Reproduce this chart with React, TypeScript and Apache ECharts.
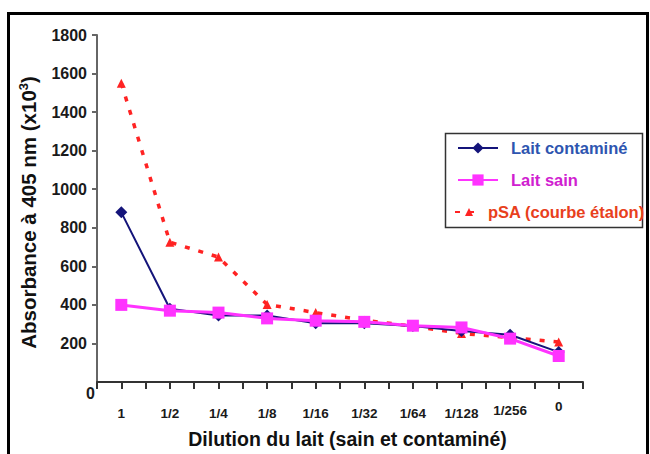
import React, { useEffect, useRef } from "react";
import * as echarts from "echarts";

const categories = ["1", "1/2", "1/4", "1/8", "1/16", "1/32", "1/64", "1/128", "1/256", "0"];
const laitContamine = [880, 380, 345, 345, 305, 305, 290, 265, 245, 155];
const laitSain = [400, 370, 360, 330, 318, 312, 292, 283, 225, 135];
const pSA = [1550, 725, 648, 402, 360, 320, 290, 252, 230, 208];
const yTicks = { min: 0, max: 1800, interval: 200 };

const NAVY = "#14147a";
const MAGENTA = "#ff33ff";
const RED = "#ff2323";
const FONT = "Liberation Sans, Arial, sans-serif";

export default function App() {
  const ref = useRef<HTMLDivElement>(null);
  useEffect(() => {
    if (!ref.current) return;
    const chart = echarts.init(ref.current, null, { renderer: "svg" });
    const catData = categories.map((c, i) => {
      if (i === categories.length - 1) return { value: c, textStyle: { lineHeight: 1 } };
      if (i === categories.length - 2) return { value: c, textStyle: { lineHeight: 9 } };
      return c;
    });
    chart.setOption({
      animation: false,
      backgroundColor: "#ffffff",
      textStyle: { fontFamily: FONT },
      grid: { left: 97, right: 67, top: 35, bottom: 71 },
      xAxis: [
        {
          type: "category",
          data: catData,
          boundaryGap: true,
          name: "Dilution du lait (sain et contaminé)",
          nameLocation: "middle",
          nameGap: 47,
          nameTextStyle: { fontWeight: "bold", fontSize: 19.5, color: "#111", fontFamily: FONT, padding: [0, 0, 0, 15] },
          axisLine: { show: true, onZero: false, lineStyle: { color: "#333", width: 2 } },
          axisTick: { show: true, interval: 0, alignWithLabel: false, length: 7, lineStyle: { color: "#333", width: 2 } },
          axisLabel: { interval: 0, margin: 24, fontWeight: "bold", fontSize: 13.5, color: "#1a1a1a", fontFamily: FONT },
          splitLine: { show: false },
        },
        {
          type: "category",
          data: categories,
          boundaryGap: true,
          position: "bottom",
          axisLine: { show: false, onZero: false },
          axisTick: { show: true, interval: 0, alignWithLabel: true, length: 7, lineStyle: { color: "#333", width: 2 } },
          axisLabel: { show: false },
          splitLine: { show: false },
        },
      ],
      yAxis: {
        type: "value",
        min: yTicks.min,
        max: yTicks.max,
        interval: yTicks.interval,
        name: "Absorbance à 405 nm (x10{sup|3})",
        nameLocation: "middle",
        nameGap: 57,
        nameTextStyle: {
          fontWeight: "bold",
          fontSize: 20.5,
          color: "#111",
          fontFamily: FONT,
          padding: [0, 8, 0, 0],
          rich: { sup: { fontSize: 13, fontWeight: "bold", verticalAlign: "top", padding: [0, 0, 10, 0], fontFamily: FONT, color: "#111" } },
        },
        axisLine: { show: true, onZero: false, lineStyle: { color: "#666", width: 2 } },
        axisTick: { show: true, length: 5, lineStyle: { color: "#666", width: 2 } },
        axisLabel: {
          showMinLabel: false,
          margin: 10,
          fontWeight: "bold",
          fontSize: 16,
          color: "#1a1a1a",
          fontFamily: FONT,
          formatter: (v: number) => String(v),
        },
        splitLine: { show: false },
      },
      legend: [
        {
          orient: "vertical",
          left: 457,
          top: 138,
          padding: 0,
          itemWidth: 40,
          itemHeight: 14,
          itemGap: 12,
          data: [
            { name: "Lait contaminé", textStyle: { color: "#2e55b0" } },
            { name: "Lait sain", textStyle: { color: "#d020d0" } },
          ],
          textStyle: { fontWeight: "bold", fontSize: 16.5, lineHeight: 20, fontFamily: FONT, padding: [0, 0, 0, 8] },
        },
        {
          orient: "vertical",
          left: 454,
          top: 202,
          padding: 0,
          itemWidth: 28,
          itemHeight: 10,
          data: [{ name: "pSA (courbe étalon)", textStyle: { color: "#e8401c" } }],
          textStyle: { fontWeight: "bold", fontSize: 16.5, lineHeight: 20, fontFamily: FONT },
        },
      ],
      graphic: [
        {
          type: "rect",
          shape: { x: 8.5, y: 13.5, width: 639, height: 520 },
          style: { fill: "none", stroke: "#000", lineWidth: 3 },
          silent: true,
        },
        {
          type: "rect",
          shape: { x: 445.5, y: 133.5, width: 197, height: 94 },
          style: { fill: "none", stroke: "#333", lineWidth: 1.5 },
          silent: true,
        },
        {
          type: "text",
          x: 86,
          y: 385,
          style: { text: "0", font: "bold 16px " + FONT, fill: "#1a1a1a" },
          silent: true,
        },
      ],
      series: [
        {
          name: "pSA (courbe étalon)",
          type: "line",
          data: pSA,
          z: 1,
          symbol: "triangle",
          symbolSize: 9,
          itemStyle: { color: RED },
          lineStyle: { color: RED, width: 3.5, type: [5, 9] },
        },
        {
          name: "Lait contaminé",
          type: "line",
          data: laitContamine,
          z: 2,
          symbol: "diamond",
          symbolSize: 12,
          itemStyle: { color: NAVY },
          lineStyle: { color: NAVY, width: 2 },
        },
        {
          name: "Lait sain",
          type: "line",
          data: laitSain,
          z: 3,
          symbol: "rect",
          symbolSize: 12,
          itemStyle: { color: MAGENTA },
          lineStyle: { color: MAGENTA, width: 3 },
        },
      ],
    });
    return () => chart.dispose();
  }, []);
  return <div ref={ref} style={{ position: "absolute", left: 0, top: 0, width: 650, height: 454 }} />;
}
